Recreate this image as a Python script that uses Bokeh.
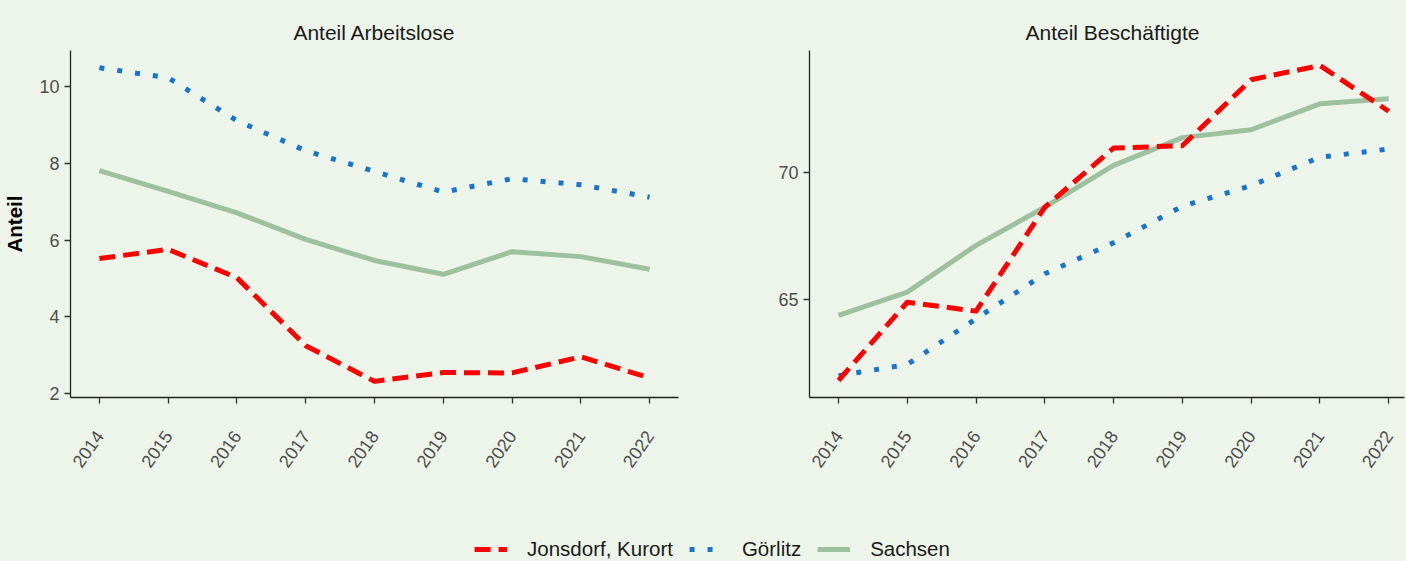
import math
from bokeh.plotting import figure
from bokeh.models import Range1d, FixedTicker, Legend, LegendItem
from bokeh.layouts import column, row
from bokeh.embed import file_html
from bokeh.resources import INLINE

years = [2014, 2015, 2016, 2017, 2018, 2019, 2020, 2021, 2022]
series_names = ["Jonsdorf, Kurort", "Görlitz", "Sachsen"]

arb_jonsdorf = [5.52, 5.76, 5.02, 3.25, 2.32, 2.55, 2.54, 2.96, 2.41]
arb_goerlitz = [10.49, 10.23, 9.11, 8.33, 7.79, 7.25, 7.60, 7.44, 7.12]
arb_sachsen = [7.81, 7.27, 6.71, 6.02, 5.47, 5.11, 5.70, 5.57, 5.24]

bes_jonsdorf = [61.81, 64.89, 64.54, 68.63, 70.96, 71.05, 73.65, 74.21, 72.41]
bes_goerlitz = [62.00, 62.44, 64.24, 66.01, 67.23, 68.67, 69.48, 70.60, 70.92]
bes_sachsen = [64.37, 65.29, 67.13, 68.63, 70.28, 71.37, 71.68, 72.70, 72.90]

left_yticks = [2, 4, 6, 8, 10]
right_yticks = [65, 70]

BG = "#edf5ea"
FONT = "Liberation Sans"
RED = "#ff0000"
BLUE = "#1874cd"
GREEN = "#9dc09e"

styles = {
    "Jonsdorf, Kurort": dict(color=RED, line_dash="16 8"),
    "Görlitz": dict(color=BLUE, line_dash="5 13"),
    "Sachsen": dict(color=GREEN, line_dash="solid"),
}

PANEL_H = 527


def make_panel(title, width, xr, yr, yticks, data, ylabel, b_left, b_right):
    p = figure(width=width, height=PANEL_H, x_range=xr, y_range=yr,
               toolbar_location=None, output_backend="svg",
               min_border_left=b_left, min_border_right=b_right,
               min_border_top=50, min_border_bottom=PANEL_H - 397)
    p.title.text = title
    p.title.align = "center"
    p.title.text_font = FONT
    p.title.text_font_size = "21px"
    p.title.text_font_style = "normal"
    p.title.text_color = "#1a1a1a"
    p.title.standoff = 13
    p.background_fill_color = BG
    p.border_fill_color = BG
    p.outline_line_color = None
    p.grid.visible = False
    for ax in (p.xaxis[0], p.yaxis[0]):
        ax.axis_line_color = "#222222"
        ax.axis_line_width = 1.3
        ax.major_tick_line_color = "#333333"
        ax.major_tick_line_width = 1.3
        ax.major_tick_out = 6
        ax.major_tick_in = 0
        ax.minor_tick_line_color = None
        ax.major_label_text_font = FONT
        ax.major_label_text_font_size = "18px"
        ax.major_label_text_color = "#4d4d4d"
    p.xaxis.ticker = FixedTicker(ticks=years)
    p.xaxis.major_label_orientation = math.radians(55)
    p.xaxis.major_label_standoff = 29
    p.yaxis.ticker = FixedTicker(ticks=yticks)
    p.yaxis.major_label_standoff = 5
    if ylabel:
        p.yaxis.axis_label = ylabel
        p.yaxis.axis_label_text_font = FONT
        p.yaxis.axis_label_text_font_size = "20.5px"
        p.yaxis.axis_label_text_font_style = "bold"
        p.yaxis.axis_label_text_color = "#000000"
        p.yaxis.axis_label_standoff = 10
    for name in ["Sachsen", "Görlitz", "Jonsdorf, Kurort"]:
        st = styles[name]
        p.line(years, data[name], line_color=st["color"], line_width=5,
               line_dash=st["line_dash"], line_cap="butt", line_join="round")
    return p


p1 = make_panel("Anteil Arbeitslose", 740, Range1d(2013.58, 2022.42), Range1d(1.9, 10.94),
                left_yticks,
                {"Jonsdorf, Kurort": arb_jonsdorf, "Görlitz": arb_goerlitz, "Sachsen": arb_sachsen},
                "Anteil", 70, 62)
p2 = make_panel("Anteil Beschäftigte", 666, Range1d(2013.578, 2022.23), Range1d(61.14, 74.8),
                right_yticks,
                {"Jonsdorf, Kurort": bes_jonsdorf, "Görlitz": bes_goerlitz, "Sachsen": bes_sachsen},
                None, 69, 2)
p2.title.align = "left"
p2.title.offset = 216

lg = figure(width=1406, height=561 - PANEL_H, x_range=Range1d(0, 1), y_range=Range1d(0, 1),
            toolbar_location=None, output_backend="svg", min_border=0, min_border_left=18)
lg.background_fill_color = BG
lg.border_fill_color = BG
lg.outline_line_color = None
lg.axis.visible = False
lg.grid.visible = False
items = []
for name in series_names:
    st = styles[name]
    r = lg.line([float("nan")], [float("nan")], line_color=st["color"], line_width=5,
                line_dash=st["line_dash"], line_cap="butt")
    items.append(LegendItem(label=name, renderers=[r]))
legend = Legend(items=items, orientation="horizontal", location="bottom_center",
                label_text_font=FONT, label_text_font_size="20.5px", label_text_color="#1a1a1a",
                glyph_width=33, glyph_height=20, label_standoff=20, spacing=16,
                padding=0, margin=0, background_fill_alpha=0, border_line_color=None)
lg.add_layout(legend, "center")

layout = column(row(p1, p2), lg)
html = file_html(layout, INLINE)
html = html.replace("</head>", "<style>body{background:%s;}</style></head>" % BG, 1)
open("out.html", "w").write(html)
